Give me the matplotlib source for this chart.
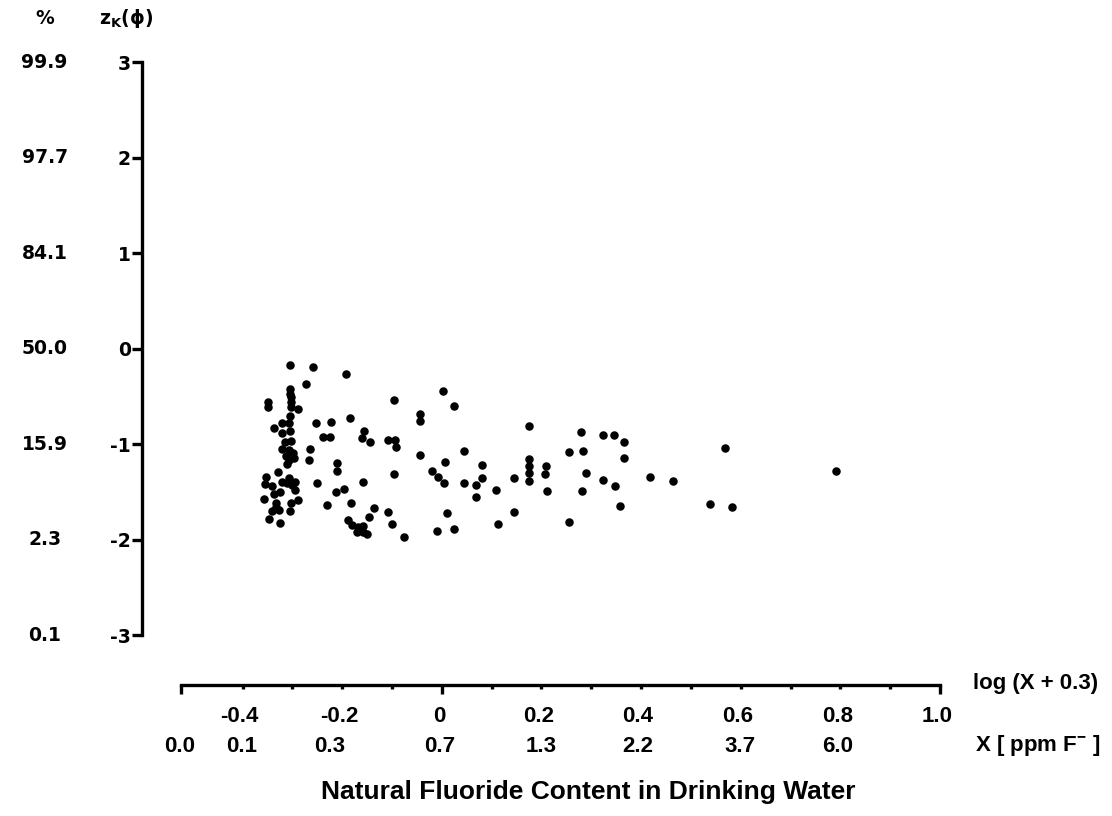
import numpy as np
import matplotlib
matplotlib.use('Agg')
import matplotlib.pyplot as plt
from matplotlib.transforms import blended_transform_factory

# log(X + 0.3) and z_K(phi) of each sample
logX = [-0.305, -0.259, -0.273, -0.305, -0.305, -0.303, -0.303, -0.303, -0.289, -0.349,
        -0.349, -0.305, -0.321, -0.307, -0.253, -0.337, -0.321, -0.305, -0.315, -0.303,
        -0.321, -0.307, -0.299, -0.313, -0.297, -0.307, -0.311, -0.265, -0.267, -0.329,
        -0.353, -0.307, -0.295, -0.355, -0.341, -0.321, -0.311, -0.301, -0.295, -0.251,
        -0.325, -0.337, -0.357, -0.289, -0.303, -0.333, -0.333, -0.341, -0.327, -0.305,
        -0.347, -0.325,
        -0.193, -0.096, -0.223, -0.185, -0.239, -0.225, -0.157, -0.161, -0.145, -0.108,
        -0.094, -0.092, -0.211, -0.211, -0.096, -0.159, -0.213, -0.197, -0.231, -0.183,
        -0.137, -0.147, -0.108, -0.100, -0.189, -0.181, -0.169, -0.159, -0.171, -0.159,
        -0.151, -0.076, 0.002, 0.024, -0.044, -0.044, -0.044, 0.044, 0.175, 0.006,
        -0.020, -0.008, 0.004, 0.044, 0.080, 0.080, 0.068, 0.068, 0.108, 0.145,
        0.175, 0.175, 0.175, 0.175, 0.010, -0.010, 0.024, 0.112, 0.145, 0.279,
        0.323, 0.345, 0.365, 0.255, 0.283, 0.365, 0.568, 0.209, 0.207, 0.289,
        0.323, 0.347, 0.211, 0.281, 0.418, 0.464, 0.791, 0.255, 0.357, 0.538,
        0.582]
zK = [-0.17, -0.19, -0.37, -0.42, -0.47, -0.51, -0.56, -0.61, -0.63, -0.56,
      -0.61, -0.70, -0.78, -0.78, -0.78, -0.83, -0.88, -0.86, -0.98, -0.97,
      -1.05, -1.06, -1.09, -1.12, -1.14, -1.16, -1.21, -1.05, -1.16, -1.29,
      -1.34, -1.35, -1.39, -1.42, -1.44, -1.40, -1.41, -1.43, -1.48, -1.41,
      -1.50, -1.52, -1.57, -1.58, -1.61, -1.62, -1.66, -1.70, -1.69, -1.70,
      -1.78, -1.82,
      -0.27, -0.54, -0.77, -0.73, -0.92, -0.92, -0.86, -0.93, -0.98, -0.96,
      -0.96, -1.03, -1.20, -1.28, -1.31, -1.40, -1.50, -1.47, -1.64, -1.62,
      -1.67, -1.76, -1.71, -1.83, -1.79, -1.85, -1.87, -1.86, -1.92, -1.92,
      -1.94, -1.97, -0.44, -0.60, -0.68, -0.76, -1.11, -1.07, -0.81, -1.19,
      -1.28, -1.34, -1.41, -1.41, -1.22, -1.35, -1.43, -1.55, -1.48, -1.35,
      -1.15, -1.23, -1.30, -1.38, -1.72, -1.91, -1.89, -1.83, -1.71, -0.87,
      -0.90, -0.90, -0.98, -1.08, -1.07, -1.14, -1.04, -1.23, -1.31, -1.30,
      -1.37, -1.44, -1.49, -1.49, -1.34, -1.38, -1.28, -1.81, -1.65, -1.63,
      -1.66]

z_ticks = [3, 2, 1, 0, -1, -2, -3]
pct_labels = ['99.9', '97.7', '84.1', '50.0', '15.9', '2.3', '0.1']
log_labels = [-0.4, -0.2, 0, 0.2, 0.4, 0.6, 0.8, 1.0]
ppm_labels = [0.0, 0.1, 0.3, 0.7, 1.3, 2.2, 3.7, 6.0]

narrow = ['Liberation Sans Narrow', 'Liberation Sans', 'DejaVu Sans']

fig = plt.figure(figsize=(11.12, 8.16), dpi=100)
ax = fig.add_axes([0.1277, 0.1605, 0.7176, 0.7635])

ax.scatter(logX, zK, s=26, color='black', zorder=3, clip_on=False)

x_start = np.log10(ppm_labels[0] + 0.3)
ax.set_xlim(-0.602, 1.0)
ax.set_ylim(-3.52, 3.0)

for side in ['top', 'right']:
    ax.spines[side].set_visible(False)
ax.spines['left'].set_bounds(-3, 3)
ax.spines['bottom'].set_bounds(x_start, 1.0)
ax.spines['left'].set_linewidth(2.4)
ax.spines['bottom'].set_linewidth(2.4)

ax.set_yticks(z_ticks)
ax.set_yticklabels([str(z) for z in z_ticks], fontsize=13.5, fontweight='bold')
ax.tick_params(axis='y', length=7, width=2.4, pad=1)

ax.set_xticks([x_start, 0, 1.0])
ax.set_xticklabels([])
ax.set_xticks(np.arange(-0.4, 0.95, 0.1), minor=True)
ax.tick_params(axis='x', which='major', length=6.5, width=2.4)
ax.tick_params(axis='x', which='minor', length=3, width=2.4)

# percent column and headers
tr_y = blended_transform_factory(ax.transAxes, ax.transData)
for z, p in zip(z_ticks, pct_labels):
    ax.text(-0.122, z, p, transform=tr_y, ha='center', va='center',
            fontsize=13.5, fontweight='bold')
fig.text(45 / 1112, 1 - 18 / 816, '%', ha='center', va='center',
         fontsize=13.5, fontweight='bold')
fig.text(126 / 1112, 1 - 18 / 816, r'z$_\mathregular{K}$(ϕ)', ha='center', va='center',
         fontsize=13.5, fontweight='bold')

# bottom label rows
tr_x = blended_transform_factory(ax.transData, ax.transAxes)
for v in log_labels:
    txt = '0' if v == 0 else ('%.1f' % v)
    ax.text(v - 0.006, -0.05, txt, transform=tr_x, ha='center', va='center',
            fontsize=16, fontweight='bold', family=narrow)
for v in ppm_labels:
    ax.text(np.log10(v + 0.3) - 0.004, -0.098, '%.1f' % v, transform=tr_x,
            ha='center', va='center', fontsize=16, fontweight='bold', family=narrow)

fig.text(1036 / 1112, 1 - 684 / 816, 'log (X + 0.3)', ha='center', va='center',
         fontsize=16, fontweight='bold', family=narrow)
fig.text(1038 / 1112, 1 - 746 / 816, r'X [ ppm F$^{\mathregular{-}}$ ]', ha='center',
         va='center', fontsize=16, fontweight='bold', family=narrow)
fig.text(588 / 1112, 1 - 792 / 816, 'Natural Fluoride Content in Drinking Water',
         ha='center', va='center', fontsize=19, fontweight='bold', family=narrow)

fig.savefig('out.png', dpi=100)
